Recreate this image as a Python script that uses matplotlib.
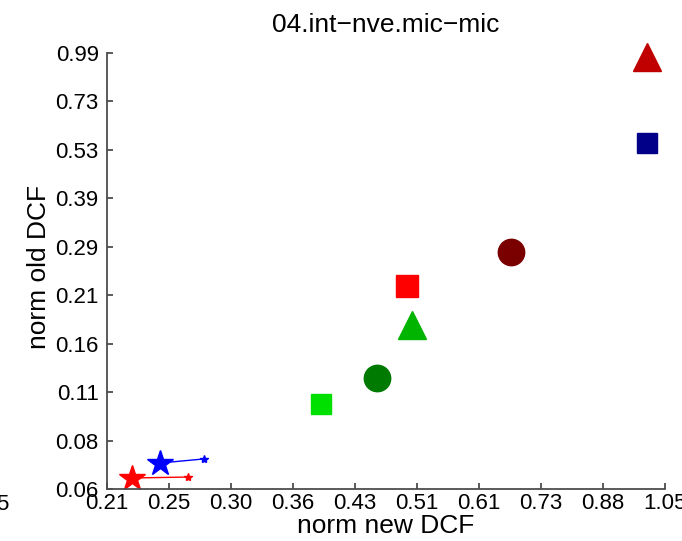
import numpy as np
import matplotlib.pyplot as plt

plt.rcParams['font.family'] = ['Liberation Sans', 'DejaVu Sans']

# axis ticks (log spaced, labels as printed)
x_tick_labels = ['0.21', '0.25', '0.30', '0.36', '0.43', '0.51', '0.61', '0.73', '0.88', '1.05']
y_tick_labels = ['0.06', '0.08', '0.11', '0.16', '0.21', '0.29', '0.39', '0.53', '0.73', '0.99']
x_lo, x_hi = 0.21, 1.05
y_lo, y_hi = 0.06, 0.99

# single operating points
point_x = [0.997, 0.997, 0.673, 0.499, 0.506, 0.457, 0.389]
point_y = [0.965, 0.555, 0.275, 0.221, 0.172, 0.1225, 0.1037]

# star pairs (actual -> min)
blue_star_x = [0.2446, 0.2778]
blue_star_y = [0.0709, 0.0728]
red_star_x = [0.2257, 0.2652]
red_star_y = [0.0644, 0.0648]

point_marker = ['^', 's', 'o', 's', '^', 'o', 's']
point_color = ['#C00000', '#000088', '#7A0000', '#FF0000', '#00B400', '#007A00', '#00E000']
point_size = [20.5, 14.5, 19, 15.5, 20.5, 19, 14.5]

fig = plt.figure(figsize=(6.82, 5.41), dpi=100)
ax = fig.add_axes([107 / 682, 52 / 541, 558 / 682, 436 / 541])

for i in range(len(point_x)):
    ax.plot(point_x[i], point_y[i], point_marker[i], color=point_color[i],
            markeredgecolor=point_color[i], markersize=point_size[i], clip_on=False)

for sx, sy, c in [(blue_star_x, blue_star_y, '#0000FF'), (red_star_x, red_star_y, '#FF0000')]:
    ax.plot(sx, sy, '-', color=c, lw=1, clip_on=False)
    ax.plot(sx[0], sy[0], '*', color=c, markersize=19, clip_on=False)
    ax.plot(sx[1], sy[1], '*', color=c, markersize=6, clip_on=False)

ax.set_xscale('log')
ax.set_yscale('log')
ax.set_xlim(x_lo, x_hi)
ax.set_ylim(y_lo, y_hi)
ax.set_xticks(np.geomspace(x_lo, x_hi, len(x_tick_labels)))
ax.set_xticklabels(x_tick_labels)
ax.set_yticks(np.geomspace(y_lo, y_hi, len(y_tick_labels)))
ax.set_yticklabels(y_tick_labels)
ax.minorticks_off()

for s in ['top', 'right']:
    ax.spines[s].set_visible(False)
for s in ['left', 'bottom']:
    ax.spines[s].set_color('0.3')
    ax.spines[s].set_linewidth(1.3)
ax.tick_params(direction='in', length=4, width=1.3, color='0.3', labelsize=16)
ax.tick_params(axis='x', pad=3)
ax.tick_params(axis='y', pad=6)

ax.set_xlabel('norm new DCF', fontsize=19)
ax.set_ylabel('norm old DCF', fontsize=19)
ax.xaxis.set_label_coords(0.5, -0.058)
ax.yaxis.set_label_coords(-0.10, 0.51)
ax.set_title('04.int\u2212nve.mic\u2212mic', fontsize=19, pad=15)

# stray clipped label at the left edge
fig.text(-4 / 682, 31 / 541, '5', fontsize=16, ha='left', va='baseline')

fig.savefig('out.png', dpi=100)
